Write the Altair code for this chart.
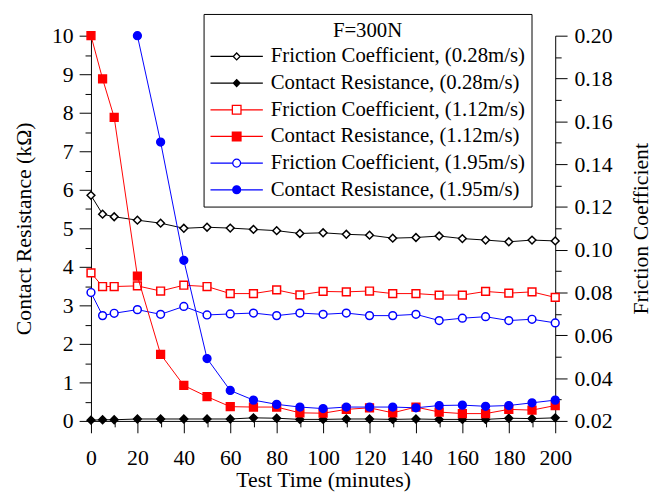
import altair as alt
import pandas as pd

SERIF = "Liberation Serif"

times = [0, 5, 10, 20, 30, 40, 50, 60, 70, 80, 90, 100, 110, 120, 130, 140, 150, 160, 170, 180, 190, 200]
times_cr195 = [20, 30, 40, 50, 60, 70, 80, 90, 100, 110, 120, 130, 140, 150, 160, 170, 180, 190, 200]

fc_028 = [0.1254, 0.1166, 0.1154, 0.1138, 0.1124, 0.1100, 0.1105, 0.1101, 0.1095, 0.1089, 0.1076,
          0.1079, 0.1072, 0.1068, 0.1054, 0.1057, 0.1064, 0.1052, 0.1045, 0.1037, 0.1045, 0.1041]
cr_028 = [0.02, 0.03, 0.03, 0.05, 0.05, 0.05, 0.05, 0.05, 0.08, 0.07, 0.04,
          0.04, 0.05, 0.05, 0.04, 0.05, 0.04, 0.04, 0.04, 0.07, 0.06, 0.08]
fc_112 = [0.0892, 0.0828, 0.0828, 0.0831, 0.0807, 0.0834, 0.0828, 0.0795, 0.0795, 0.0812, 0.0789,
          0.0805, 0.0803, 0.0807, 0.0795, 0.0795, 0.0788, 0.0788, 0.0805, 0.0797, 0.0803, 0.0777]
cr_112 = [10.0, 8.88, 7.88, 3.76, 1.73, 0.92, 0.63, 0.37, 0.36, 0.36, 0.21,
          0.20, 0.30, 0.34, 0.21, 0.36, 0.23, 0.19, 0.19, 0.30, 0.28, 0.40]
fc_195 = [0.0800, 0.0692, 0.0703, 0.0720, 0.0698, 0.0735, 0.0695, 0.0700, 0.0704, 0.0692, 0.0704,
          0.0698, 0.0704, 0.0692, 0.0692, 0.0698, 0.0669, 0.0680, 0.0687, 0.0669, 0.0675, 0.0658]
cr_195 = [10.0, 7.24, 4.17, 1.62, 0.79, 0.54, 0.43, 0.36, 0.32, 0.36,
          0.36, 0.36, 0.34, 0.40, 0.41, 0.38, 0.40, 0.47, 0.54]

labels = ["Friction Coefficient, (0.28m/s)", "Contact Resistance, (0.28m/s)",
          "Friction Coefficient, (1.12m/s)", "Contact Resistance, (1.12m/s)",
          "Friction Coefficient, (1.95m/s)", "Contact Resistance, (1.95m/s)"]
kinds = ["F", "R", "F", "R", "F", "R"]
colors = ["#000000", "#000000", "#ff0000", "#ff0000", "#0000ff", "#0000ff"]
fills = ["#ffffff", "#000000", "#ffffff", "#ff0000", "#ffffff", "#0000ff"]
shapes = ["diamond", "diamond", "square", "square", "circle", "circle"]
sizes = [62, 62, 90, 90, 90, 100]

# legend glyphs: a line with the marker in its middle (unit square -1..1)
DIAMOND_L = "M-1,0H-0.13M0.13,0H1M-0.13,0L0,-0.13L0.13,0L0,0.13Z"
SQUARE_L = "M-1,0H-0.165M0.165,0H1M-0.165,-0.165H0.165V0.165H-0.165Z"
CIRCLE_L = "M-1,0H-0.15M0.15,0H1M-0.15,0A0.15,0.15,0,1,0,0.15,0A0.15,0.15,0,1,0,-0.15,0Z"
legend_glyphs = [DIAMOND_L, DIAMOND_L, SQUARE_L, SQUARE_L, CIRCLE_L, CIRCLE_L]

xs_all = [times, times, times, times, times, times_cr195]
ys_all = [fc_028, cr_028, fc_112, cr_112, fc_195, cr_195]

rows = []
for lab, kind, xs, ys in zip(labels, kinds, xs_all, ys_all):
    for t, v in zip(xs, ys):
        rows.append({"time": t, "value": v, "series": lab, "kind": kind})
df = pd.DataFrame(rows)

x_ticks = list(range(0, 201, 10))
left_ticks = [i * 0.5 for i in range(21)]
right_ticks = [round(0.02 + i * 0.01, 2) for i in range(19)]

axis_style = dict(labelFont=SERIF, labelFontSize=22, titleFont=SERIF, titleFontSize=22,
                  titleFontWeight="normal", labelColor="black", titleColor="black",
                  domainColor="black", tickColor="black", grid=False,
                  domainWidth=1, tickWidth=1, labelFlush=False, labelOverlap=False)

x_enc = alt.X("time:Q", scale=alt.Scale(domain=[0, 200], nice=False),
              axis=alt.Axis(values=x_ticks, labelExpr="datum.value % 20 == 0 ? datum.label : ''",
                            tickSize={"condition": {"test": "datum.value % 20 == 0", "value": 12}, "value": 6},
                            labelPadding=15, titlePadding=1, **axis_style),
              title="Test Time (minutes)")

yL = alt.Y("value:Q", scale=alt.Scale(domain=[0, 10], nice=False, zero=False),
           axis=alt.Axis(orient="left", values=left_ticks, format=".0f",
                         labelExpr="datum.value % 1 == 0 ? datum.label : ''",
                         tickSize={"condition": {"test": "datum.value % 1 == 0", "value": 12}, "value": 6},
                         labelPadding=6, titlePadding=16, **axis_style),
           title="Contact Resistance (kΩ)")
yR = alt.Y("value:Q", scale=alt.Scale(domain=[0.02, 0.20], nice=False, zero=False),
           axis=alt.Axis(orient="right", values=right_ticks, format=".2f",
                         labelExpr="round(datum.value * 100) % 2 == 0 ? datum.label : ''",
                         tickSize={"condition": {"test": "round(datum.value * 100) % 2 == 0", "value": 12}, "value": 6},
                         labelPadding=7, titlePadding=41, titleAngle=270, **axis_style),
           title="Friction Coefficient")

glyph_expr = "[" + ",".join("'" + g + "'" for g in legend_glyphs) + "][datum.index]"

point_legend = alt.Legend(orient="none", legendX=114, legendY=-22, title="F=300N",
                          titleFont=SERIF, titleFontSize=21, titleFontWeight="normal",
                          titleAnchor="middle", titleColor="black",
                          labelFont=SERIF, labelFontSize=21, labelColor="black", labelLimit=400,
                          clipHeight=22, rowPadding=5, padding=6, titlePadding=5,
                          symbolSize=2809, symbolStrokeWidth=1.3, labelOffset=7,
                          symbolType={"expr": glyph_expr},
                          strokeColor="black")

# stroke/fill carry the legend (explicit domain); the other channels use a sort
# so that their (legend-less) scales are not merged with it
stroke_enc = alt.Stroke("series:N", scale=alt.Scale(domain=labels, range=colors), legend=point_legend)
fill_enc = alt.Fill("series:N", scale=alt.Scale(domain=labels, range=fills), legend=point_legend)
shape_enc = alt.Shape("series:N", sort=labels, scale=alt.Scale(range=shapes), legend=None)
size_enc = alt.Size("series:N", sort=labels, scale=alt.Scale(range=sizes), legend=None)
color_enc = alt.Color("series:N", sort=labels, scale=alt.Scale(range=colors), legend=None)

base = alt.Chart(df)


def make_layer(kind, y_enc):
    b = base.transform_filter(f"datum.kind == '{kind}'")
    lines = b.mark_line(strokeWidth=1).encode(x=x_enc, y=y_enc, color=color_enc,
                                              order="time:Q")
    pts = b.mark_point(opacity=1, strokeWidth=1.5, filled=False).encode(
        x=x_enc, y=y_enc, stroke=stroke_enc, fill=fill_enc, shape=shape_enc, size=size_enc)
    return alt.layer(lines, pts)


left = make_layer("R", yL)
right = make_layer("F", yR)

chart = alt.layer(right, left).resolve_scale(y="independent").properties(
    width=470, height=390,
    autosize=alt.AutoSizeParams(type="none"),
    padding={"left": 84, "top": 25, "right": 100, "bottom": 75},
).configure_view(stroke=None).configure_legend(strokeWidth=1)

chart.save("out.html", embed_options={"renderer": "svg", "actions": False})
